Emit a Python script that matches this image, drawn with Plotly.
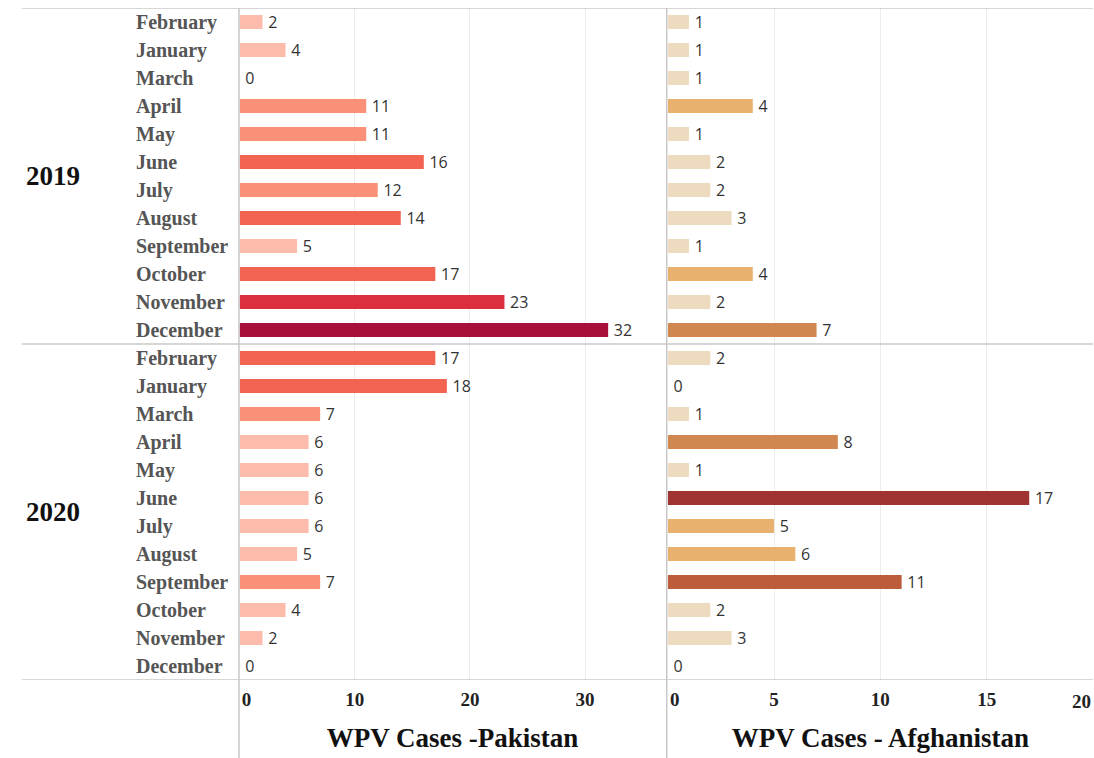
import plotly.graph_objects as go
from plotly.subplots import make_subplots

years = ["2019", "2020"]
months = ["February", "January", "March", "April", "May", "June", "July",
          "August", "September", "October", "November", "December"]
pakistan_2019 = [2, 4, 0, 11, 11, 16, 12, 14, 5, 17, 23, 32]
pakistan_2020 = [17, 18, 7, 6, 6, 6, 6, 5, 7, 4, 2, 0]
afghanistan_2019 = [1, 1, 1, 4, 1, 2, 2, 3, 1, 4, 2, 7]
afghanistan_2020 = [2, 0, 1, 8, 1, 17, 5, 6, 11, 2, 3, 0]
pak_ticks = [0, 10, 20, 30]
afg_ticks = [0, 5, 10, 15, 20]

pak = pakistan_2019 + pakistan_2020
afg = afghanistan_2019 + afghanistan_2020
rows = list(range(len(pak)))
W, H = 1094, 758
NB = "\u00a0"
AFG_MAX = 20.0


def pak_color(v):
    if v <= 6:
        return "#fdbcab"
    if v <= 12:
        return "#fb9079"
    if v <= 18:
        return "#f26352"
    if v <= 25:
        return "#db2f3f"
    return "#a8103a"


def afg_color(v):
    if v <= 3:
        return "#eedbbf"
    if v <= 6:
        return "#e8b16f"
    if v <= 9:
        return "#d08850"
    if v <= 13:
        return "#bd5c3a"
    return "#a03432"


def tick_text(ticks):
    out = []
    for i, t in enumerate(ticks):
        s = f"<b>{t}</b>"
        if i == 0:
            s = NB * 3 + s
        out.append(s)
    return out


fig = make_subplots(rows=1, cols=2, shared_yaxes=True, horizontal_spacing=0)

label_font = dict(family="Open Sans, Noto Sans, sans-serif", size=16, color="#333333",
                  weight="normal")
for col, vals, cfun in [(1, pak, pak_color), (2, afg, afg_color)]:
    fig.add_trace(go.Bar(x=vals, y=rows, orientation="h", width=0.5,
                         marker=dict(color=[cfun(v) for v in vals], line=dict(width=0)),
                         text=[f"\u2009{v}" for v in vals], textposition="outside",
                         constraintext="none", textfont=label_font,
                         cliponaxis=False, showlegend=False, hoverinfo="skip"),
                  row=1, col=col)

x1 = (230 / W, 661 / W)
x2 = (663 / W, 1093 / W)
ydom = ((H - 680) / H, (H - 8) / H)

tick_font = dict(family="Liberation Serif, DejaVu Serif, serif", size=19, color="#222222")
title_font = dict(family="Liberation Serif, DejaVu Serif, serif", size=27, color="#111111")

# ticks inside the range go on the axis; the end tick (20) sits at the panel edge
afg_axis_ticks = [t for t in afg_ticks if t < AFG_MAX]
afg_edge_ticks = [t for t in afg_ticks if t >= AFG_MAX]

fig.update_layout(
    width=W, height=H,
    margin=dict(l=0, r=0, t=0, b=0, pad=0),
    paper_bgcolor="white", plot_bgcolor="white",
    xaxis=dict(domain=x1, range=[0, 37.0], tickvals=pak_ticks, ticktext=tick_text(pak_ticks),
               showgrid=True, gridcolor="#ececec", gridwidth=1, zeroline=False,
               showline=False, ticks="", tickfont=tick_font, ticklabelstandoff=6,
               title=dict(text="<b>WPV Cases -Pakistan</b>", font=title_font, standoff=19)),
    xaxis2=dict(domain=x2, range=[0, AFG_MAX], tickvals=afg_axis_ticks,
                ticktext=tick_text(afg_axis_ticks),
                showgrid=True, gridcolor="#ececec", gridwidth=1, zeroline=False,
                showline=False, ticks="", tickfont=tick_font, ticklabelstandoff=6,
                title=dict(text="<b>WPV Cases - Afghanistan</b>", font=title_font, standoff=19)),
    yaxis=dict(domain=ydom, range=[len(rows) - 0.5, -0.5], showticklabels=False,
               showgrid=False, zeroline=False, ticks=""),
    yaxis2=dict(domain=ydom, range=[len(rows) - 0.5, -0.5], showticklabels=False,
                showgrid=False, zeroline=False, ticks=""),
    font=dict(family="Liberation Serif, serif"),
)

line_col = "#c8c8c8"
shapes = []
for yv in [-0.5, len(months) - 0.5, len(rows) - 0.5]:
    shapes.append(dict(type="line", xref="paper", yref="y", x0=10 / W, x1=1093 / W,
                       y0=yv, y1=yv, line=dict(color=line_col, width=1.5)))
for xp in [229.5, 662]:
    shapes.append(dict(type="line", xref="paper", yref="paper", x0=xp / W, x1=xp / W,
                       y0=0, y1=ydom[1], line=dict(color=line_col, width=1.5)))
fig.update_layout(shapes=shapes)

annotations = []
for i, r in enumerate(rows):
    annotations.append(dict(xref="paper", yref="y", x=123 / W, y=r, xanchor="left",
                            yanchor="middle", showarrow=False,
                            text=f"<b>{months[i % len(months)]}</b>",
                            font=dict(family="Liberation Serif, DejaVu Serif, serif",
                                      size=20, color="#555555")))
for k, yr in enumerate(years):
    annotations.append(dict(xref="paper", yref="y", x=12 / W, y=k * len(months) + (len(months) - 1) / 2,
                            xanchor="left", yanchor="middle", showarrow=False,
                            text=f"<b>{yr}</b>",
                            font=dict(family="Liberation Serif, DejaVu Serif, serif",
                                      size=27, color="#111111")))
for t in afg_edge_ticks:
    annotations.append(dict(xref="x2", yref="paper", x=t, y=(H - 701) / H,
                            xanchor="right", yanchor="middle", showarrow=False,
                            text=f"<b>{t}</b>", font=tick_font))
fig.update_layout(annotations=annotations)

post = "document.body.style.margin='0';document.body.style.overflow='hidden';"
fig.write_html("out.html", config={"displayModeBar": False}, post_script=post)
